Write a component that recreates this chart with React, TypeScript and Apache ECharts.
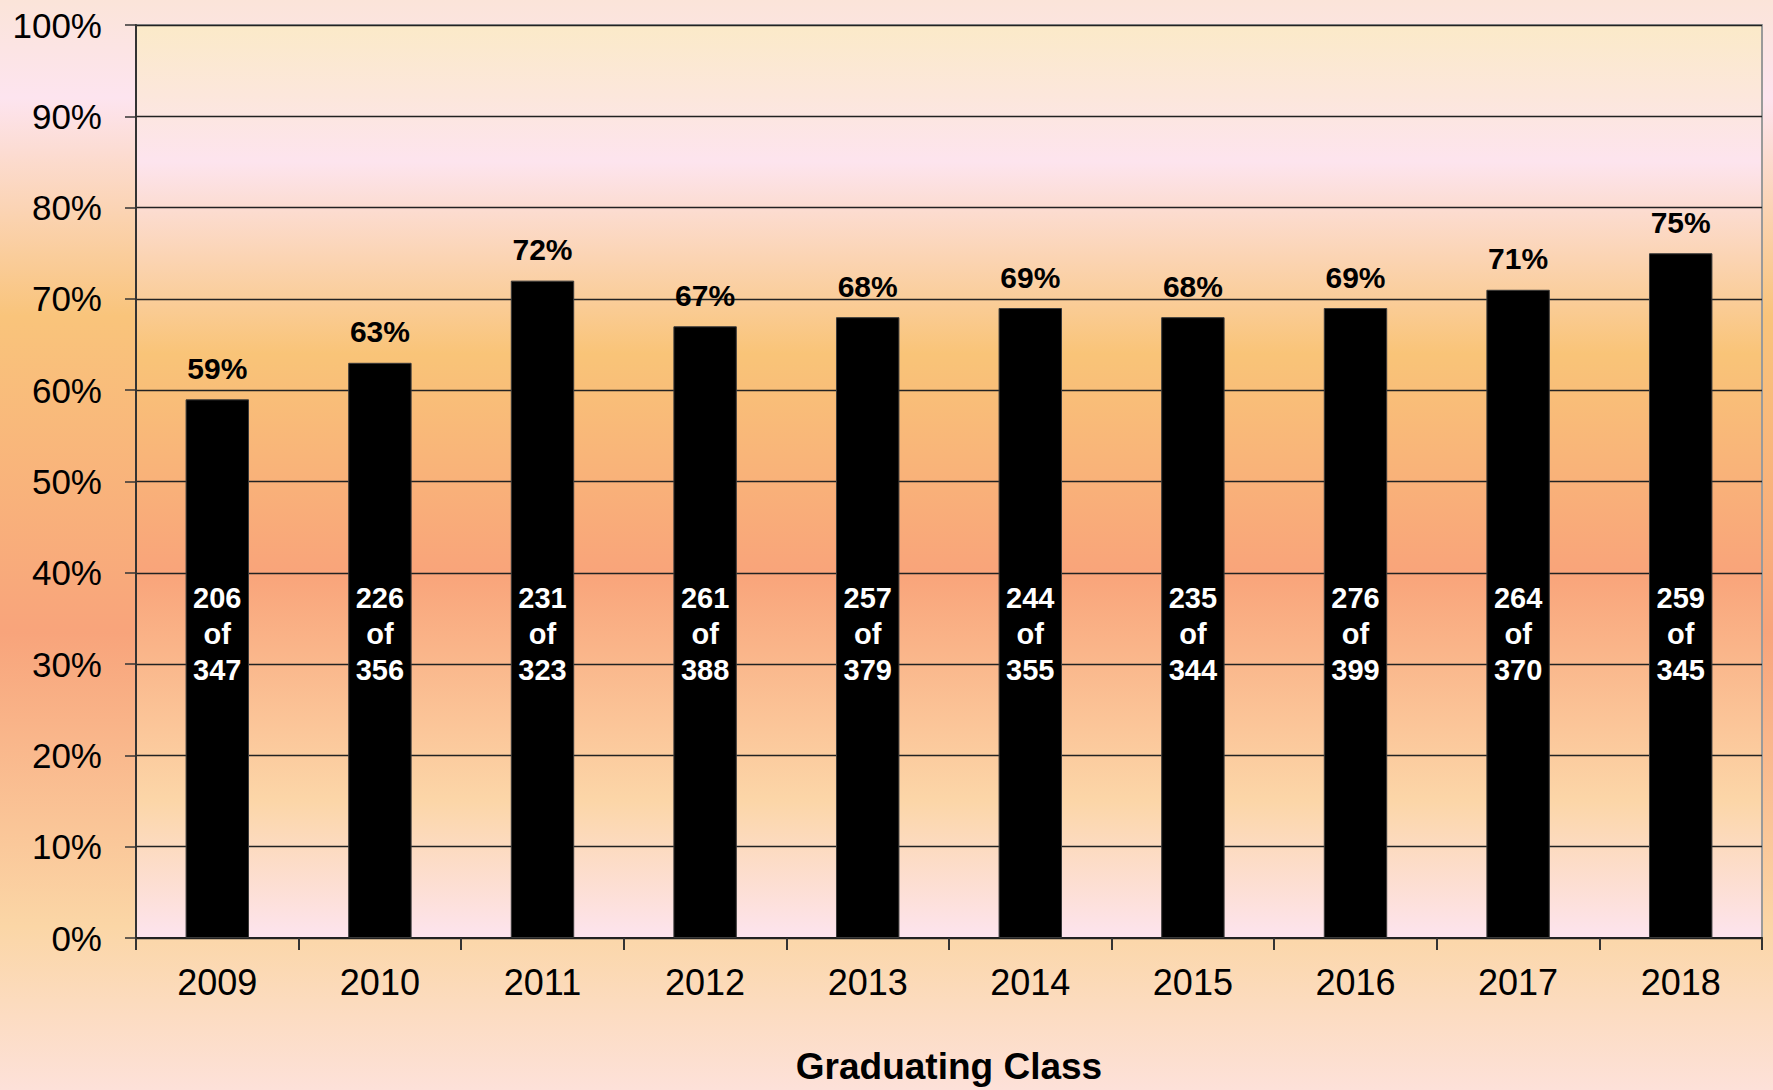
import React, { useEffect, useRef } from "react";
import * as echarts from "echarts";

const categories = ["2009", "2010", "2011", "2012", "2013", "2014", "2015", "2016", "2017", "2018"];
const percentValues = [59, 63, 72, 67, 68, 69, 68, 69, 71, 75];
const graduates = [206, 226, 231, 261, 257, 244, 235, 276, 264, 259];
const classSizes = [347, 356, 323, 388, 379, 355, 344, 399, 370, 345];
const yTickValues = [0, 10, 20, 30, 40, 50, 60, 70, 80, 90, 100];

const FONT = "'Liberation Sans', Arial, sans-serif";

export default function App() {
  const ref = useRef<HTMLDivElement>(null);
  useEffect(() => {
    if (!ref.current) return;
    const chart = echarts.init(ref.current, null, { renderer: "svg" });
    const option = {
      animation: false,
      backgroundColor: {
        type: "linear",
        x: 0,
        y: 0,
        x2: 0,
        y2: 1,
        colorStops: [
          { offset: 0, color: "#fbe4d9" },
          { offset: 0.09, color: "#fde4ef" },
          { offset: 0.29, color: "#f9c47b" },
          { offset: 0.58, color: "#f8a47b" },
          { offset: 0.85, color: "#fbd6a6" },
          { offset: 1, color: "#fde1d9" },
        ],
      },
      textStyle: { fontFamily: FONT },
      grid: {
        left: 136,
        right: 11,
        top: 25,
        bottom: 152,
        show: true,
        borderColor: "#9a9a9a",
        borderWidth: 2,
        backgroundColor: {
          type: "linear",
          x: 0,
          y: 0,
          x2: 0,
          y2: 1,
          colorStops: [
            { offset: 0, color: "#fbeac8" },
            { offset: 0.15, color: "#fde4ee" },
            { offset: 0.36, color: "#f9c478" },
            { offset: 0.6, color: "#f9a47a" },
            { offset: 0.85, color: "#fcd6a8" },
            { offset: 1, color: "#fde4ee" },
          ],
        },
      },
      xAxis: {
        type: "category",
        data: categories,
        name: "Graduating Class",
        nameLocation: "middle",
        nameGap: 110,
        nameTextStyle: { fontFamily: FONT, fontSize: 37, fontWeight: "bold", color: "#000" },
        axisLine: { show: true, lineStyle: { color: "#222", width: 2 } },
        axisTick: { show: true, length: 12, lineStyle: { color: "#333", width: 2 } },
        axisLabel: { fontFamily: FONT, fontSize: 36, color: "#000", margin: 26 },
      },
      yAxis: {
        type: "value",
        min: yTickValues[0],
        max: yTickValues[yTickValues.length - 1],
        interval: yTickValues[1] - yTickValues[0],
        axisLine: { show: true, lineStyle: { color: "#333", width: 2 } },
        axisTick: { show: true, length: 11, lineStyle: { color: "#333", width: 1.5 } },
        axisLabel: { fontFamily: FONT, fontSize: 35, color: "#000", margin: 34, formatter: "{value}%" },
        splitLine: { show: true, lineStyle: { color: "#222", width: 1.3 } },
      },
      series: [
        {
          type: "bar",
          data: percentValues,
          barWidth: "39%",
          itemStyle: { color: "#000", borderColor: "#3a3a3a", borderWidth: 1 },
          label: {
            show: true,
            position: "top",
            distance: 16,
            formatter: "{c}%",
            fontFamily: FONT,
            fontSize: 30,
            fontWeight: "bold",
            color: "#000",
          },
          z: 2,
        },
        {
          type: "bar",
          data: percentValues,
          barWidth: "39%",
          barGap: "-100%",
          itemStyle: { color: "rgba(0,0,0,0)" },
          label: {
            show: true,
            position: "insideBottom",
            distance: 250,
            formatter: (p: any) => `${graduates[p.dataIndex]}\nof\n${classSizes[p.dataIndex]}`,
            fontFamily: FONT,
            fontSize: 29,
            lineHeight: 36,
            fontWeight: "bold",
            color: "#fff",
            align: "center",
          },
          z: 3,
        },
      ],
    };
    chart.setOption(option as any);
    return () => chart.dispose();
  }, []);
  return (
    <div
      ref={ref}
      style={{ position: "absolute", left: 0, top: 0, width: 1773, height: 1090 }}
    />
  );
}
